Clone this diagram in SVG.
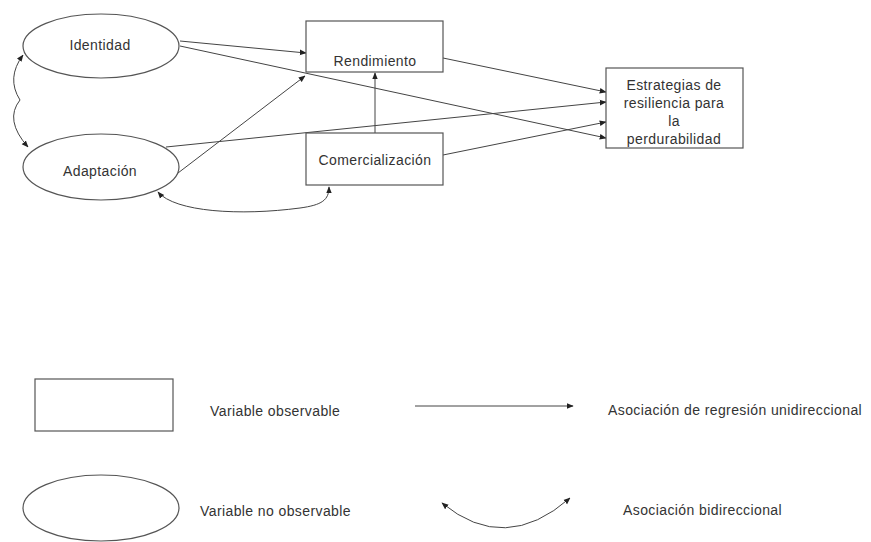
<svg xmlns="http://www.w3.org/2000/svg" width="871" height="542" viewBox="0 0 871 542">
  <style>
    .node { fill: #ffffff; stroke: #555555; stroke-width: 1.2; }
    .lbl { font-family: "Liberation Sans", Arial, sans-serif; font-size: 14px; fill: #333333; letter-spacing: 0.4px; }
    .mid { text-anchor: middle; }
    .edge { fill: none; stroke: #444444; stroke-width: 1; }
    .uni { marker-end: url(#head); }
    .bi { marker-start: url(#head); marker-end: url(#head); }
  </style>
  <defs>
    <marker id="head" viewBox="0 0 10 10" refX="9" refY="5" markerWidth="7" markerHeight="7" markerUnits="userSpaceOnUse" orient="auto-start-reverse">
      <path d="M0,1 L10,5 L0,9 Z" fill="#222222"/>
    </marker>
  </defs>
  <rect width="871" height="542" fill="#ffffff"/>

  <!-- connectors -->
  <g id="connectors">
    <line class="edge uni" x1="180" y1="41" x2="306" y2="53"/>
    <line class="edge uni" x1="180" y1="46" x2="606" y2="138"/>
    <line class="edge uni" x1="178" y1="173" x2="305" y2="76"/>
    <line class="edge uni" x1="166" y1="147" x2="606" y2="102"/>
    <line class="edge uni" x1="375" y1="133" x2="375" y2="73"/>
    <line class="edge uni" x1="443" y1="58" x2="606" y2="92"/>
    <line class="edge uni" x1="443" y1="155" x2="606" y2="122"/>
    <path class="edge bi" d="M23,55 Q6,78 20,100 Q4,120 28,147"/>
    <path class="edge bi" d="M158,192 C175,212 240,216 300,208 C322,205 329,200 329,187"/>
  </g>

  <!-- latent variables -->
  <g id="identidad">
    <ellipse class="node" cx="101" cy="46" rx="78" ry="32"/>
    <text class="lbl mid" x="100" y="50">Identidad</text>
  </g>
  <g id="adaptacion">
    <ellipse class="node" cx="101" cy="167" rx="78" ry="33"/>
    <text class="lbl mid" x="100" y="176">Adaptación</text>
  </g>

  <!-- observed variables -->
  <g id="rendimiento">
    <rect class="node" x="306" y="21" width="137" height="51"/>
    <text class="lbl mid" x="375" y="66">Rendimiento</text>
  </g>
  <g id="comercializacion">
    <rect class="node" x="306" y="133" width="137" height="52"/>
    <text class="lbl mid" x="375" y="165">Comercialización</text>
  </g>
  <g id="estrategias">
    <rect class="node" x="606" y="68" width="137" height="80"/>
    <text class="lbl mid" x="674" y="90">Estrategias de</text>
    <text class="lbl mid" x="674" y="108">resiliencia para</text>
    <text class="lbl mid" x="674" y="126">la</text>
    <text class="lbl mid" x="674" y="144">perdurabilidad</text>
  </g>

  <!-- legend -->
  <g id="legend-observable">
    <rect class="node" x="35" y="379" width="138" height="52"/>
    <text class="lbl" x="210" y="416">Variable observable</text>
  </g>
  <g id="legend-latent">
    <ellipse class="node" cx="101" cy="508" rx="78" ry="33"/>
    <text class="lbl" x="200" y="516">Variable no observable</text>
  </g>
  <g id="legend-regression">
    <line class="edge uni" x1="415" y1="406" x2="573" y2="406"/>
    <text class="lbl" x="608" y="415">Asociación de regresión unidireccional</text>
  </g>
  <g id="legend-bidirectional">
    <path class="edge bi" d="M442,503 Q505,555 570,498"/>
    <text class="lbl" x="623" y="515">Asociación bidireccional</text>
  </g>
</svg>
